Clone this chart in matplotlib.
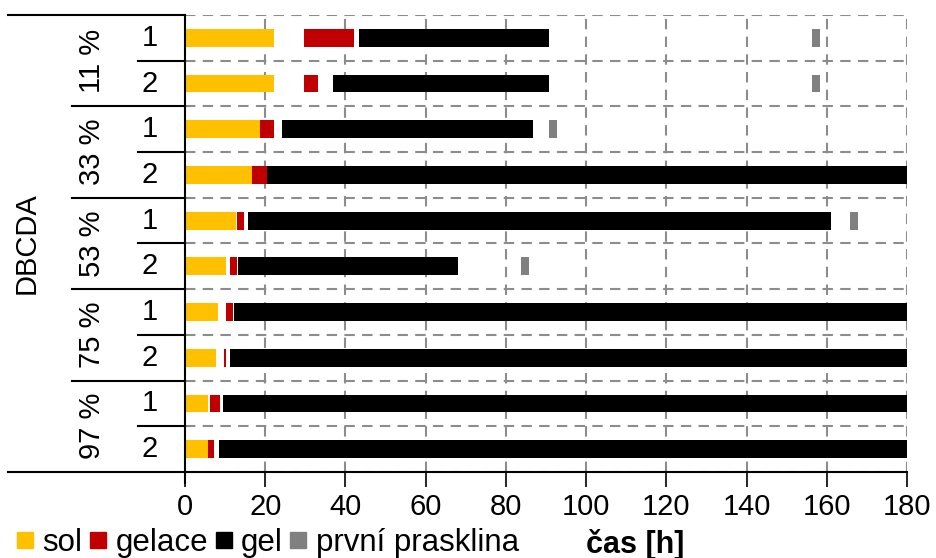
import matplotlib.pyplot as plt
from matplotlib.lines import Line2D

plt.rcParams['font.family'] = ['Liberation Sans', 'DejaVu Sans']

# rows from top to bottom: (concentration, repeat)
groups = ['11 %', '33 %', '53 %', '75 %', '97 %']
repeats = ['1', '2'] * 5

# sol: 0 -> sol_end
sol_end = [22.3, 22.3, 18.8, 16.8, 12.7, 10.2, 8.3, 7.7, 5.8, 5.7]
# gelace
gelace_start = [29.7, 29.7, 18.8, 16.8, 12.9, 11.2, 10.3, 9.7, 6.3, 5.8]
gelace_end = [42.2, 33.2, 22.3, 20.4, 14.8, 12.9, 11.9, 10.3, 8.8, 7.3]
# gel
gel_start = [43.4, 36.8, 24.3, 20.4, 15.8, 13.3, 12.3, 11.3, 9.4, 8.4]
gel_end = [90.7, 90.7, 86.7, 180, 161.1, 68.1, 180, 180, 180, 180]
# first crack (None = no crack observed)
crack_start = [156.2, 156.2, 90.7, None, 165.8, 83.7, None, None, None, None]
crack_end = [158.3, 158.3, 92.7, None, 167.8, 85.8, None, None, None, None]

xticks = [0, 20, 40, 60, 80, 100, 120, 140, 160, 180]

c_sol = '#FFC000'
c_gelace = '#C00000'
c_gel = '#000000'
c_crack = '#808080'

W, H = 937, 558
fig = plt.figure(figsize=(W / 100, H / 100), dpi=100)
x0, x1, y0, y1 = 185, 907, 15, 472
ax = fig.add_axes([x0 / W, 1 - y1 / H, (x1 - x0) / W, (y1 - y0) / H])

rows = list(range(len(sol_end)))
bh = 0.39
ax.barh(rows, sol_end, left=0, height=bh, color=c_sol, zorder=3)
ax.barh(rows, [e - s for s, e in zip(gelace_start, gelace_end)], left=gelace_start,
        height=bh, color=c_gelace, zorder=3)
ax.barh(rows, [e - s for s, e in zip(gel_start, gel_end)], left=gel_start,
        height=bh, color=c_gel, zorder=3)
for r, s, e in zip(rows, crack_start, crack_end):
    if s is not None:
        ax.barh(r, e - s, left=s, height=bh, color=c_crack, zorder=3)

ax.set_xlim(0, 180)
ax.set_ylim(9.5, -0.5)

# dashed grid incl. top and right border
grid_kw = dict(color='#8c8c8c', lw=1.5, ls=(0, (5, 3.5)), zorder=1)
for k in range(11):
    ax.axhline(k - 0.5, **grid_kw)
for t in xticks[1:]:
    ax.axvline(t, **grid_kw)

for side in ['top', 'right']:
    ax.spines[side].set_visible(False)
ax.spines['left'].set_linewidth(1.5)
ax.spines['bottom'].set_linewidth(1.5)
ax.spines['left'].set_bounds(-0.5, 9.5)
ax.spines['left'].set_zorder(4)

ax.set_yticks([])
ax.set_xticks(xticks)
ax.set_xticklabels([str(t) for t in xticks], fontsize=21)
ax.tick_params(axis='x', direction='out', length=11, width=1.2, pad=4)


def fx(px):
    # figure pixel x -> figure fraction
    return px / W


trans = ax.get_yaxis_transform()
axfrac = lambda px: (px - x0) / (x1 - x0)

# hierarchical category axis
line_kw = dict(color='black', lw=1.5, clip_on=False, transform=trans, zorder=5)
ax.add_line(Line2D([axfrac(8), 0], [-0.5, -0.5], **line_kw))
ax.add_line(Line2D([axfrac(8), 0], [9.5, 9.5], **line_kw))
ax.add_line(Line2D([0, 0], [9.5, 9.75], **line_kw))
for g in range(5):
    ax.add_line(Line2D([axfrac(138), 0], [2 * g + 0.5] * 2, **line_kw))
    if g < 4:
        ax.add_line(Line2D([axfrac(72), 0], [2 * g + 1.5] * 2, **line_kw))
    ax.text(axfrac(92), 2 * g + 0.5, groups[g], rotation=90, ha='center', va='center',
            fontsize=21, transform=trans)
for r in rows:
    ax.text(axfrac(150), r, repeats[r], ha='center', va='center', fontsize=21,
            transform=trans)
ax.text(axfrac(27), 4.5, 'DBCDA', rotation=90, ha='center', va='center', fontsize=21,
        transform=trans)

# legend
handles = [Line2D([], [], marker='s', ls='', markersize=12, color=c)
           for c in [c_sol, c_gelace, c_gel, c_crack]]
fig.legend(handles, ['sol', 'gelace', 'gel', 'první prasklina'], loc='center left',
           bbox_to_anchor=(fx(16), 1 - 543 / H), ncol=4, frameon=False, fontsize=22.5,
           handlelength=0.6, handletextpad=0.25, columnspacing=0.2, borderaxespad=0,
           borderpad=0)
fig.text(fx(635), 1 - 544 / H, 'čas [h]', ha='center', va='center', fontsize=22,
         fontweight='bold')

fig.savefig('out.png', dpi=100)
